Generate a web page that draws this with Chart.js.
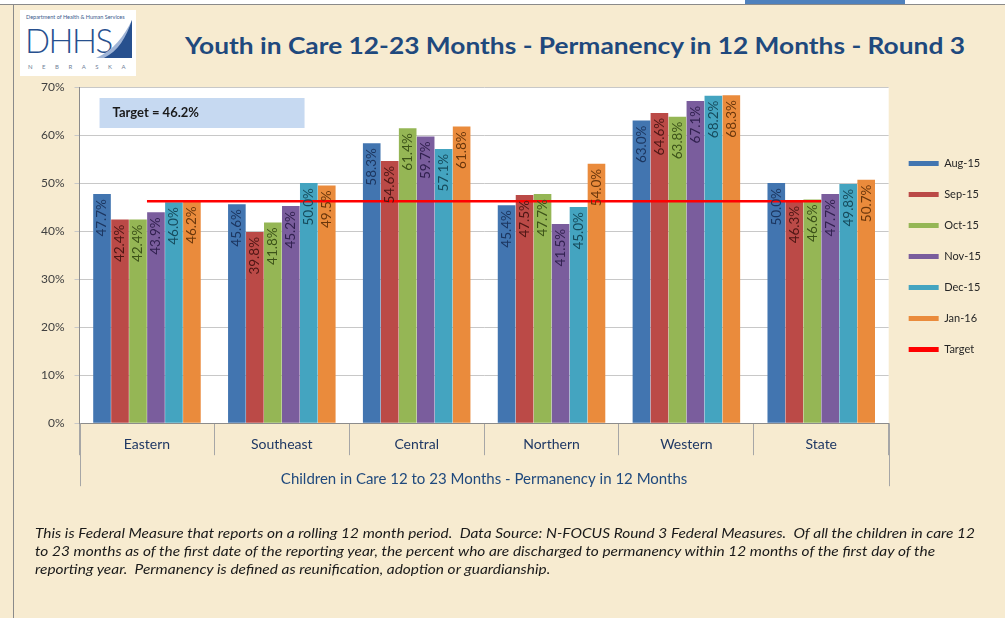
<!DOCTYPE html>
<html>
<head>
<meta charset="utf-8">
<script src="https://cdn.jsdelivr.net/npm/chart.js@4.4.1/dist/chart.umd.min.js"></script>
<style>
  html, body { margin: 0; padding: 0; }
  body {
    width: 1005px; height: 618px; position: relative; overflow: hidden;
    background: #f7ebd0;
    font-family: Lato, "Open Sans", sans-serif;
  }
  #topstrip { position: absolute; left: 0; top: 0; width: 1005px; height: 4px; background: #fff; border-bottom: 1px solid #8a8a8a; }
  #bluetab { position: absolute; left: 745px; top: 0; width: 160px; height: 4px; background: #4f81bd; }
  #leftline { position: absolute; left: 13px; top: 4px; width: 1px; height: 614px; background: #8a8a8a; }
  #logo { position: absolute; left: 20px; top: 10px; width: 116px; height: 66px; background: #fff; }
  #logo .dept { position: absolute; left: 6px; top: 4px; font-size: 5.5px; color: #3b5b8c; white-space: nowrap; }
  #logo .dhhs { position: absolute; left: 5px; top: 12px; font-size: 33px; line-height: 36px; color: #27508e; letter-spacing: -1.5px; font-weight: 300; }
  #logo .neb { position: absolute; left: 8px; top: 53px; font-size: 6px; color: #6f7f99; letter-spacing: 9.5px; }
  #logo svg { position: absolute; left: 74px; top: 8px; }
  #title { position: absolute; left: 185px; top: 32px; font-size: 22px; font-weight: bold; color: #1f497d; white-space: nowrap; transform-origin: 0 0; }
  #note { position: absolute; left: 35px; top: 524px; font-size: 13px; line-height: 18px; font-style: italic; color: #1a1a1a; white-space: pre; transform-origin: 0 0; }
  #chart { position: absolute; left: 0; top: 0; }
</style>
</head>
<body>
<div id="topstrip"></div>
<div id="bluetab"></div>
<div id="leftline"></div>
<div id="logo">
  <div class="dept">Department of Health &amp; Human Services</div>
  <div class="dhhs">DHHS</div>
  <svg width="40" height="42" viewBox="0 0 40 42">
    <path d="M38 2 C30 18 20 32 2 40 L38 40 Z" fill="#9fb4d6"/>
    <path d="M38 2 C32 20 24 33 10 40 L38 40 Z" fill="#27508e"/>
  </svg>
  <div class="neb">NEBRASKA</div>
</div>
<div id="title">Youth in Care 12-23 Months - Permanency in 12 Months - Round 3</div>
<canvas id="chart" width="1005" height="618"></canvas>
<div id="note">This is Federal Measure that reports on a rolling 12 month period.  Data Source: N-FOCUS Round 3 Federal Measures.  Of all the children in care 12
to 23 months as of the first date of the reporting year, the percent who are discharged to permanency within 12 months of the first day of the
reporting year.  Permanency is defined as reunification, adoption or guardianship.</div>

<script>
// categories and series
const regions = ['Eastern', 'Southeast', 'Central', 'Northern', 'Western', 'State'];
const months = ['Aug-15', 'Sep-15', 'Oct-15', 'Nov-15', 'Dec-15', 'Jan-16'];

const aug15 = [47.7, 45.6, 58.3, 45.4, 63.0, 50.0];
const sep15 = [42.4, 39.8, 54.6, 47.5, 64.6, 46.3];
const oct15 = [42.4, 41.8, 61.4, 47.7, 63.8, 46.6];
const nov15 = [43.9, 45.2, 59.7, 41.5, 67.1, 47.7];
const dec15 = [46.0, 50.0, 57.1, 45.0, 68.2, 49.8];
const jan16 = [46.2, 49.5, 61.8, 54.0, 68.3, 50.7];
const target = [46.2, 46.2, 46.2, 46.2, 46.2, 46.2];

const yTicks = [0, 10, 20, 30, 40, 50, 60, 70];

const barColors = ['#4275b0', '#bb4a47', '#95b655', '#7a5d9d', '#44a4c0', '#ea8b3c'];
const labelColors = ['#1c3660', '#4d1614', '#3c5219', '#31214f', '#164b5c', '#6a370c'];

// fit a line of text to a given width
function fitWidth(id, w) {
    const el = document.getElementById(id);
    const actual = el.getBoundingClientRect().width;
    el.style.transform = `scaleX(${w / actual})`;
}
fitWidth('title', 780);
fitWidth('note', 940);

const plotBg = {
    id: 'plotBg',
    beforeDraw(chart) {
        const { ctx, chartArea: a } = chart;
        ctx.save();
        ctx.fillStyle = '#ffffff';
        ctx.fillRect(a.left, a.top, a.right - a.left, a.bottom - a.top);
        ctx.restore();
    },
    afterDraw(chart) {
        const { ctx, chartArea: a } = chart;
        // outer frame lines of the category axis
        ctx.save();
        ctx.strokeStyle = '#a6a6a6';
        ctx.lineWidth = 1;
        [a.left, a.right].forEach(x => {
            ctx.beginPath();
            ctx.moveTo(Math.round(x) + 0.5, a.bottom);
            ctx.lineTo(Math.round(x) + 0.5, a.bottom + 63);
            ctx.stroke();
        });
        // target note box
        ctx.fillStyle = '#c6d9f1';
        ctx.fillRect(a.left + 20, a.top + 11, 205, 30);
        ctx.fillStyle = '#1a1a1a';
        ctx.font = 'bold 13px Lato';
        ctx.textBaseline = 'middle';
        ctx.fillText('Target = 46.2%', a.left + 33, a.top + 26);
        ctx.restore();
    }
};

const barLabels = {
    id: 'barLabels',
    afterDatasetsDraw(chart) {
        const ctx = chart.ctx;
        ctx.save();
        ctx.font = '13.5px Lato';
        ctx.textAlign = 'right';
        ctx.textBaseline = 'middle';
        chart.data.datasets.forEach((ds, i) => {
            if (ds.type === 'line') return;
            const meta = chart.getDatasetMeta(i);
            ctx.fillStyle = labelColors[i];
            meta.data.forEach((bar, j) => {
                ctx.save();
                ctx.translate(bar.x, bar.y + 5);
                ctx.rotate(-Math.PI / 2);
                ctx.fillText(ds.data[j].toFixed(1) + '%', 0, 0);
                ctx.restore();
            });
        });
        ctx.restore();
    }
};

const series = [aug15, sep15, oct15, nov15, dec15, jan16];
const datasets = series.map((data, i) => ({
    type: 'bar',
    label: months[i],
    data: data,
    backgroundColor: barColors[i],
    borderWidth: 0,
    order: 2,
    categoryPercentage: 0.8,
    barPercentage: 0.98
}));
datasets.push({
    type: 'line',
    label: 'Target',
    data: target,
    borderColor: '#ff0000',
    backgroundColor: '#ff0000',
    borderWidth: 2.5,
    pointRadius: 0,
    order: 0
});

new Chart(document.getElementById('chart'), {
    data: { labels: regions, datasets: datasets },
    options: {
        responsive: false,
        animation: false,
        layout: { padding: { left: 31, top: 87, right: 14, bottom: 130 } },
        plugins: {
            legend: {
                position: 'right',
                align: 'start',
                title: { display: true, text: ' ', font: { size: 10 }, padding: { top: 0, bottom: 39 } },
                labels: {
                    boxWidth: 30,
                    boxHeight: 5,
                    padding: 20,
                    color: '#262626',
                    font: { family: 'Lato', size: 11 },
                    sort: (a, b) => a.datasetIndex - b.datasetIndex,
                    generateLabels: chart => {
                        const items = Chart.defaults.plugins.legend.labels.generateLabels(chart);
                        items.forEach(it => { it.lineWidth = 0; });
                        return items;
                    }
                }
            },
            tooltip: { enabled: false }
        },
        scales: {
            x: {
                grid: { offset: true, drawOnChartArea: false, drawTicks: true, tickLength: 32, color: '#a6a6a6' },
                border: { color: '#8c8c8c' },
                ticks: { color: '#1f3864', padding: -19, font: { family: 'Lato', size: 14 } },
                title: {
                    display: true,
                    text: 'Children in Care 12 to 23 Months - Permanency in 12 Months',
                    color: '#1f497d',
                    font: { family: 'Lato', size: 15 },
                    padding: { top: 36, bottom: 0 }
                }
            },
            y: {
                min: 0,
                max: 70,
                afterBuildTicks: axis => { axis.ticks = yTicks.map(v => ({ value: v })); },
                grid: { color: '#c8c8c8', tickLength: 5 },
                border: { color: '#8c8c8c' },
                ticks: { color: '#404040', padding: 10, font: { family: 'Lato', size: 12 }, callback: v => v + '%' }
            }
        }
    },
    plugins: [plotBg, barLabels]
});
</script>
</body>
</html>
